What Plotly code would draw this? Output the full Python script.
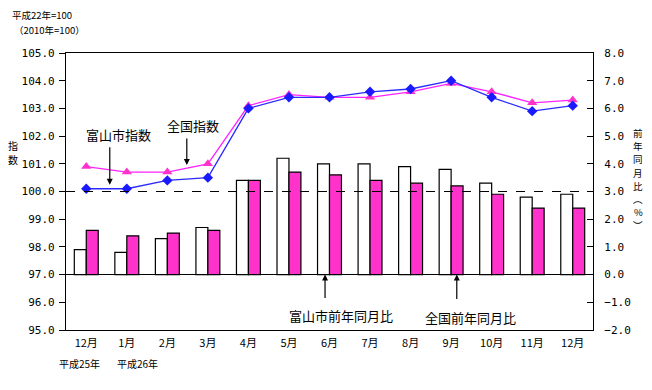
import plotly.graph_objects as go

months = ["12月", "1月", "2月", "3月", "4月", "5月", "6月", "7月", "8月", "9月", "10月", "11月", "12月"]
toyama_index = [100.1, 100.1, 100.4, 100.5, 103.0, 103.4, 103.4, 103.6, 103.7, 104.0, 103.4, 102.9, 103.1]
national_index = [100.9, 100.7, 100.7, 101.0, 103.1, 103.5, 103.4, 103.4, 103.6, 103.9, 103.6, 103.2, 103.3]
toyama_yoy = [0.9, 0.8, 1.3, 1.7, 3.4, 4.2, 4.0, 4.0, 3.9, 3.8, 3.3, 2.8, 2.9]
national_yoy = [1.6, 1.4, 1.5, 1.6, 3.4, 3.7, 3.6, 3.4, 3.3, 3.2, 2.9, 2.4, 2.4]
left_ticks = [95, 96, 97, 98, 99, 100, 101, 102, 103, 104, 105]
right_ticks = [-2, -1, 0, 1, 2, 3, 4, 5, 6, 7, 8]

x = list(range(len(months)))
JP = "Noto Sans CJK JP"
MONO = "DejaVu Sans Mono"

fig = go.Figure()
fig.add_trace(go.Bar(x=x, y=toyama_yoy, name="富山市前年同月比", yaxis="y",
                     marker=dict(color="white", line=dict(color="black", width=1.2))))
fig.add_trace(go.Bar(x=x, y=national_yoy, name="全国前年同月比", yaxis="y",
                     marker=dict(color="#FF33CC", line=dict(color="black", width=1.2))))
fig.add_trace(go.Scatter(x=x, y=national_index, name="全国指数", yaxis="y2", mode="lines+markers",
                         line=dict(color="#FF22FF", width=1.3),
                         marker=dict(symbol="triangle-up", size=9, color="#FF33CC")))
fig.add_trace(go.Scatter(x=x, y=toyama_index, name="富山市指数", yaxis="y2", mode="lines+markers",
                         line=dict(color="#2A2AFF", width=1.3),
                         marker=dict(symbol="diamond", size=8, color="#1A1AFF")))

# page body has an 8px margin: figure is 644x382 placed at (8, 8); plot area spans x 66..593, y 53..330
fig.update_layout(
    width=644, height=382,
    margin=dict(l=58, r=59, t=45, b=60, autoexpand=False),
    paper_bgcolor="white", plot_bgcolor="white",
    showlegend=False,
    barmode="group", bargap=0.41, bargroupgap=0,
    font=dict(family=JP, size=11, color="black"),
    xaxis=dict(range=[-0.5, 12.5], tickvals=x, ticktext=months, showline=True, linecolor="black",
               linewidth=1.2, mirror=True, ticks="", showgrid=False, zeroline=False,
               tickfont=dict(family=JP, size=11), automargin=False, ticklabelstandoff=3),
    yaxis=dict(side="right", range=[-2, 8], tickvals=right_ticks, tickformat=".1f",
               showline=True, linecolor="black", linewidth=1.2, ticks="inside", ticklen=6,
               tickcolor="black", showgrid=False, zeroline=True, zerolinecolor="black",
               zerolinewidth=1.2, tickfont=dict(family=MONO, size=11), ticklabelstandoff=8,
               automargin=False),
    yaxis2=dict(side="left", overlaying="y", range=[95, 105], tickvals=left_ticks, tickformat=".1f",
                showline=True, linecolor="black", linewidth=1.2, ticks="outside", ticklen=6,
                tickcolor="black", showgrid=False, zeroline=False,
                tickfont=dict(family=MONO, size=11), ticklabelstandoff=2, automargin=False),
    shapes=[dict(type="line", xref="paper", x0=0, x1=1, yref="y2", y0=100, y1=100,
                 line=dict(color="black", width=1.2, dash="dash"))],
)

ann = []
def txt(xp, yp, t, size=13, xanchor="center"):
    ann.append(dict(xref="paper", yref="paper", x=(xp - 66) / 527, y=(330 - yp) / 277,
                    text=t, showarrow=False, xanchor=xanchor, yanchor="middle",
                    font=dict(family=JP, size=size, color="black")))

def arrow(xv, yv, yref, ay):
    ann.append(dict(x=xv, y=yv, xref="x", yref=yref, text="", showarrow=True, ax=0, ay=ay,
                    arrowhead=2, arrowsize=1, arrowwidth=1.2, arrowcolor="black"))

txt(118, 134, "富山市指数")
txt(193, 125, "全国指数")
txt(341, 315, "富山市前年同月比")
txt(470, 317, "全国前年同月比")
arrow(0.58, 100.24, "y2", -39)
arrow(2.48, 100.96, "y2", -28)
arrow(5.89, 0.0, "y", 25)
arrow(9.14, 0.0, "y", 26)

txt(79, 363, "平成25年", size=10)
txt(137, 363, "平成26年", size=10)
txt(10, 15, "平成22年=100", size=9.5, xanchor="left")
txt(12, 30, "（2010年=100）", size=9.5, xanchor="left")

for i, ch in enumerate("指数"):
    txt(13, 145 + i * 14.5, ch, size=10)
for i, ch in enumerate(["前", "年", "同", "月", "比", "︵", "%", "︶"]):
    txt(638, 133 + i * 13.2, ch, size=9.5)

fig.update_layout(annotations=ann)
fig.write_html("out.html")
